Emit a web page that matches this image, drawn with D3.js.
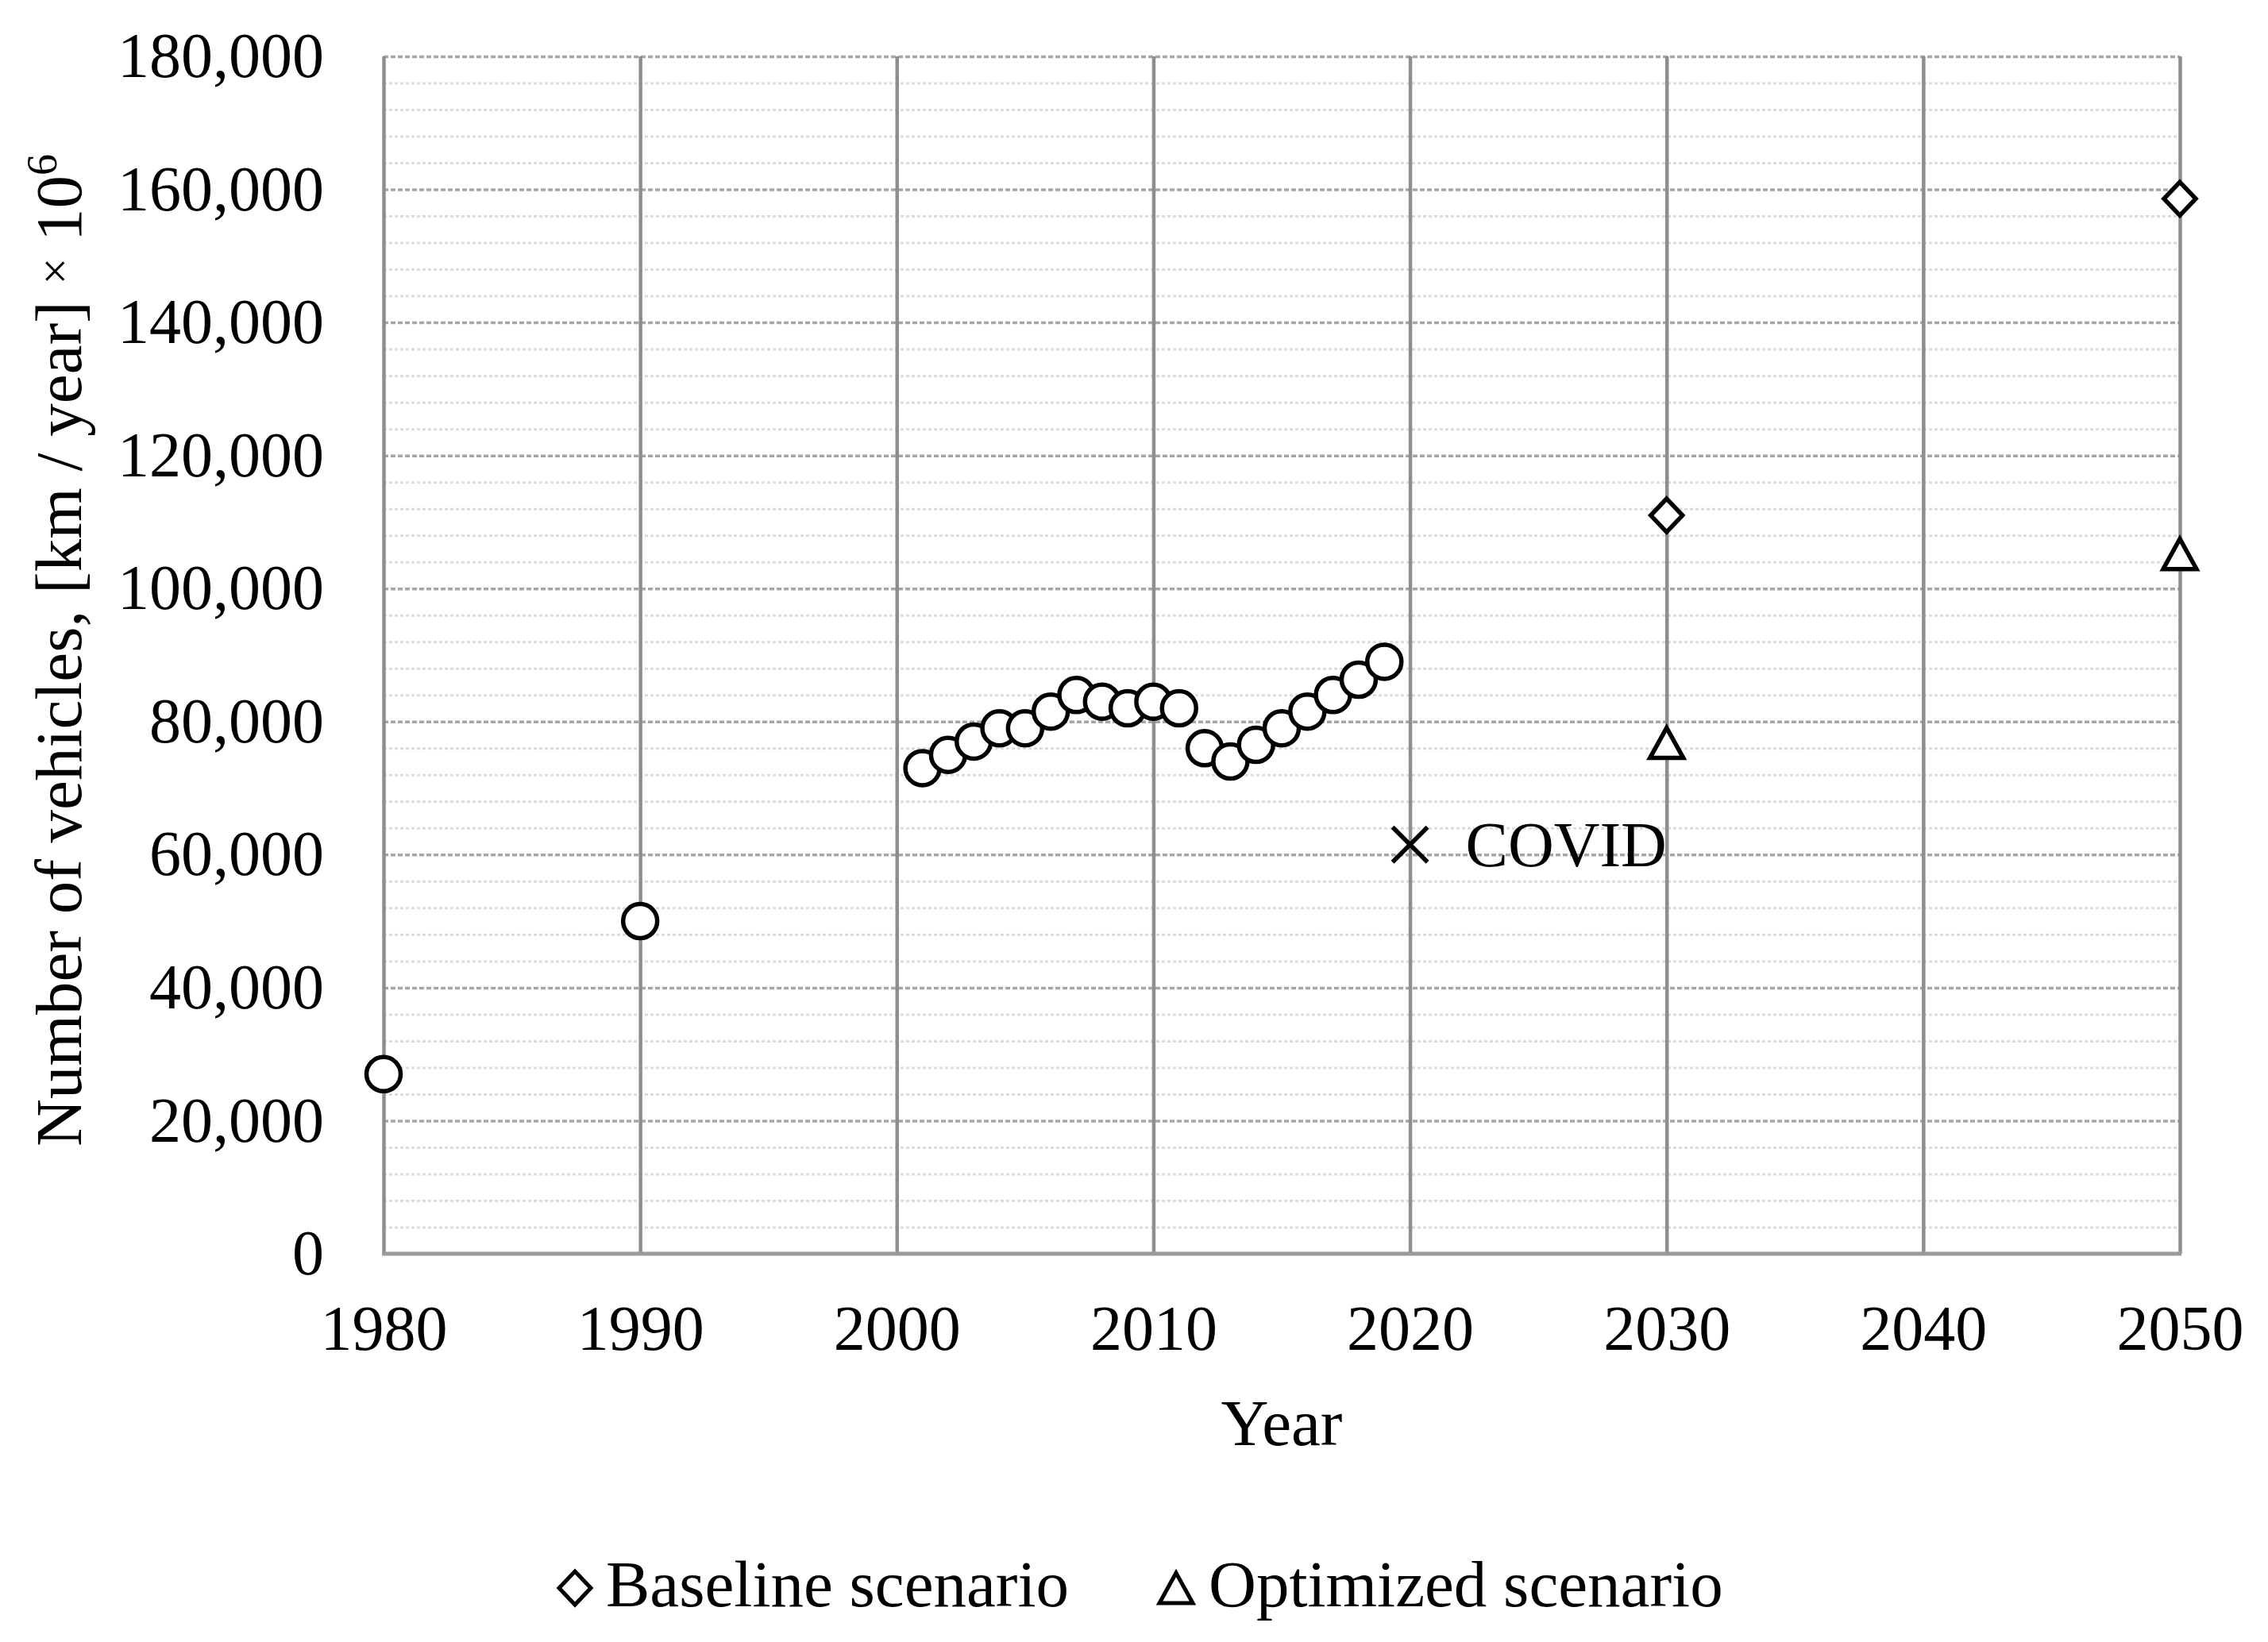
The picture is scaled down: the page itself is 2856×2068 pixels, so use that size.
<!DOCTYPE html>
<html>
<head>
<meta charset="utf-8">
<script src="https://cdn.jsdelivr.net/npm/d3@7"></script>
<style>
html,body{margin:0;padding:0;background:#fff;}
svg{display:block;}
text{font-family:"Liberation Serif","Times New Roman",serif;fill:#000;}
</style>
</head>
<body>
<svg id="chart" width="2856" height="2068"></svg>
<script>
// ---- data ----
const historicYears = [1980, 1990, 2001, 2002, 2003, 2004, 2005, 2006, 2007, 2008, 2009, 2010, 2011, 2012, 2013, 2014, 2015, 2016, 2017, 2018, 2019];
const historicValues = [27000, 50000, 73000, 75000, 77000, 79000, 79000, 81500, 84000, 83000, 82000, 83000, 82000, 76000, 74000, 76500, 79000, 81500, 84000, 86300, 89000];
const covidYear = [2020];
const covidValue = [61500];
const covidLabel = "COVID";
const scenarioYears = [2030, 2050];
const baselineValues = [111000, 158600];
const optimizedValues = [76800, 105200];
const xTicks = [1980, 1990, 2000, 2010, 2020, 2030, 2040, 2050];
const yTicks = [0, 20000, 40000, 60000, 80000, 100000, 120000, 140000, 160000, 180000];
const yMinorStep = 4000;
const legendLabels = ["Baseline scenario", "Optimized scenario"];
const xTitle = "Year";

// ---- layout ----
const L = 483, R = 2745, T = 71, B = 1579;
const FS = 80, FT = 83;
const svg = d3.select("#chart");
const x = d3.scaleLinear().domain([1980, 2050]).range([L, R]);
const y = d3.scaleLinear().domain([0, 180000]).range([B, T]);

// minor horizontal gridlines
const minorTicks = d3.range(0, 180001, yMinorStep).filter(v => !yTicks.includes(v));
svg.append("g").attr("transform", `translate(${L},0)`)
  .call(d3.axisLeft(y).tickValues(minorTicks).tickSize(-(R - L)).tickFormat(""))
  .call(g => g.select(".domain").remove())
  .call(g => g.selectAll("line").attr("stroke", "#dcdcdc").attr("stroke-width", 3).attr("stroke-dasharray", "4,3"));

// major horizontal gridlines
svg.append("g").attr("transform", `translate(${L},0)`)
  .call(d3.axisLeft(y).tickValues(yTicks.filter(v => v > 0)).tickSize(-(R - L)).tickFormat(""))
  .call(g => g.select(".domain").remove())
  .call(g => g.selectAll("line").attr("stroke", "#a6a6a6").attr("stroke-width", 3.5).attr("stroke-dasharray", "6,3"));

// vertical gridlines
svg.append("g").attr("transform", `translate(0,${B})`)
  .call(d3.axisBottom(x).tickValues(xTicks).tickSize(-(B - T)).tickFormat(""))
  .call(g => g.select(".domain").remove())
  .call(g => g.selectAll("line").attr("stroke", "#8e8e8e").attr("stroke-width", 4.5));

// bottom axis line
svg.append("line").attr("x1", x(1980) - 2).attr("x2", x(2050) + 2).attr("y1", B).attr("y2", B)
  .attr("stroke", "#9a9a9a").attr("stroke-width", 5);

// y axis labels
svg.append("g").attr("transform", `translate(${L},0)`)
  .call(d3.axisLeft(y).tickValues(yTicks).tickFormat(d3.format(",")).tickSize(0).tickPadding(75))
  .call(g => g.select(".domain").remove())
  .call(g => g.selectAll("text").attr("font-size", FS).attr("font-family", "Liberation Serif").attr("fill", "#000"));

// x axis labels
svg.append("g").attr("transform", `translate(0,${B})`)
  .call(d3.axisBottom(x).tickValues(xTicks).tickFormat(d3.format("d")).tickSize(0).tickPadding(64))
  .call(g => g.select(".domain").remove())
  .call(g => g.selectAll("text").attr("font-size", FS).attr("font-family", "Liberation Serif").attr("fill", "#000"));

// axis titles
svg.append("text").attr("x", (L + R) / 2).attr("y", 1820).attr("text-anchor", "middle")
  .attr("font-size", FT).text(xTitle);

const yt = svg.append("text").attr("transform", `translate(102,${(T + B) / 2 - 6}) rotate(-90)`)
  .attr("text-anchor", "middle").attr("font-size", FT);
yt.append("tspan").text("Number of vehicles, [km / year] ");
yt.append("tspan").attr("font-size", 60).attr("dy", -13).text("×");
yt.append("tspan").attr("dy", 13).text(" 10");
yt.append("tspan").attr("font-size", 54).attr("dy", -31).text("6");

// markers
const sw = 5.5;
const diamondPath = (() => { const p = d3.path(); p.moveTo(0, -21); p.lineTo(20, 0); p.lineTo(0, 21); p.lineTo(-20, 0); p.closePath(); return p.toString(); })();
const trianglePath = (() => { const p = d3.path(); p.moveTo(0, -19); p.lineTo(21, 19); p.lineTo(-21, 19); p.closePath(); return p.toString(); })();
const timesPath = (() => { const p = d3.path(); p.moveTo(-22, -22); p.lineTo(22, 22); p.moveTo(22, -22); p.lineTo(-22, 22); return p.toString(); })();

const hist = historicYears.map((yr, i) => ({ yr, v: historicValues[i] }));
svg.append("g").selectAll("circle").data(hist).join("circle")
  .attr("cx", d => x(d.yr)).attr("cy", d => y(d.v)).attr("r", 21.5)
  .attr("fill", "#fff").attr("stroke", "#000").attr("stroke-width", sw);

const covid = covidYear.map((yr, i) => ({ yr, v: covidValue[i] }));
svg.append("g").selectAll("path").data(covid).join("path")
  .attr("transform", d => `translate(${x(d.yr)},${y(d.v)})`).attr("d", timesPath)
  .attr("fill", "none").attr("stroke", "#000").attr("stroke-width", 5.5);
svg.append("g").selectAll("text").data(covid).join("text")
  .attr("x", d => x(d.yr) + 70).attr("y", d => y(d.v) + 27)
  .attr("font-size", FS).text(covidLabel);

const base = scenarioYears.map((yr, i) => ({ yr, v: baselineValues[i] }));
svg.append("g").selectAll("path").data(base).join("path")
  .attr("transform", d => `translate(${x(d.yr)},${y(d.v)})`).attr("d", diamondPath)
  .attr("fill", "#fff").attr("stroke", "#000").attr("stroke-width", sw);

const opt = scenarioYears.map((yr, i) => ({ yr, v: optimizedValues[i] }));
svg.append("g").selectAll("path").data(opt).join("path")
  .attr("transform", d => `translate(${x(d.yr)},${y(d.v)})`).attr("d", trianglePath)
  .attr("fill", "#fff").attr("stroke", "#000").attr("stroke-width", sw);

// legend
const leg = svg.append("g");
leg.append("path").attr("transform", "translate(724,2000)").attr("d", diamondPath)
  .attr("fill", "#fff").attr("stroke", "#000").attr("stroke-width", 5);
leg.append("text").attr("x", 763).attr("y", 2023).attr("font-size", FT).text(legendLabels[0]);
leg.append("path").attr("transform", "translate(1481,2000)").attr("d", trianglePath)
  .attr("fill", "#fff").attr("stroke", "#000").attr("stroke-width", 5);
leg.append("text").attr("x", 1522).attr("y", 2023).attr("font-size", FT).text(legendLabels[1]);
</script>
</body>
</html>
